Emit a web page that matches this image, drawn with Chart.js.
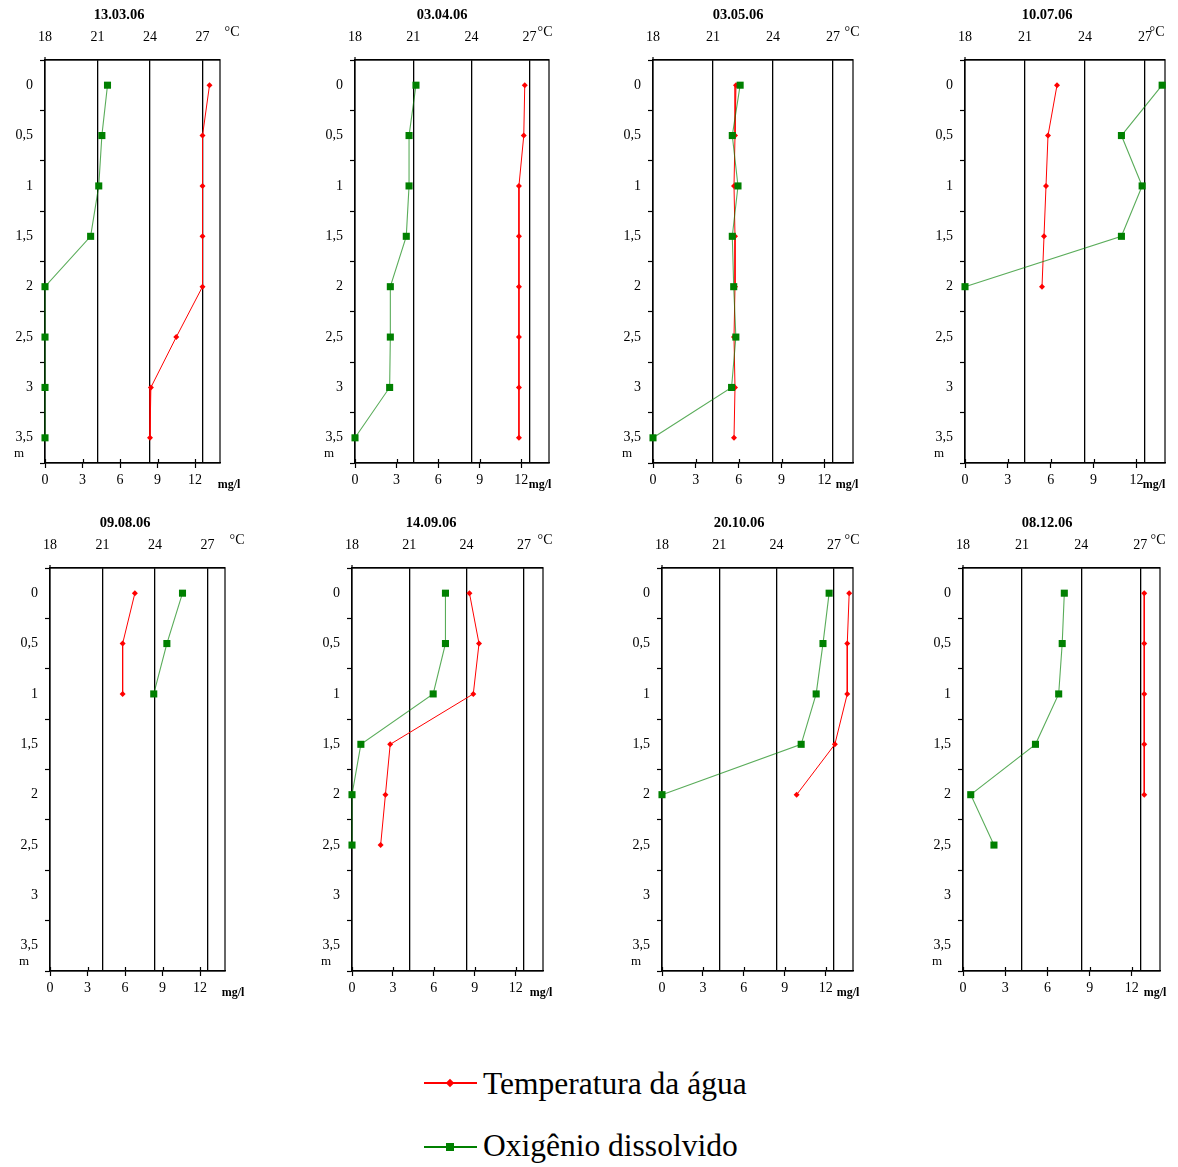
<!DOCTYPE html>
<html>
<head>
<meta charset="utf-8">
<script src="https://cdn.jsdelivr.net/npm/chart.js@4.4.0/dist/chart.umd.min.js"></script>
<style>
  body { margin: 0; background: #fff; }
  #page { position: relative; width: 1178px; height: 1167px; overflow: hidden; font-family: "Liberation Serif", "Times New Roman", serif; }
  .panel { position: absolute; }
  .leg-line { position: absolute; height: 2px; width: 53px; left: 424px; }
  .leg-text { position: absolute; left: 483px; font-size: 31.5px; line-height: 32px; color: #000; white-space: nowrap; }
</style>
</head>
<body>
<div id="page">
  <div class="leg-line" style="top:1082px;background:#ff0000"></div>
  <div style="position:absolute;left:447px;top:1080px;width:6px;height:6px;background:#ff0000;transform:rotate(45deg)"></div>
  <div class="leg-text" style="top:1068px">Temperatura da água</div>
  <div class="leg-line" style="top:1146px;background:#008000"></div>
  <div style="position:absolute;left:446px;top:1143px;width:8px;height:8px;background:#008000"></div>
  <div class="leg-text" style="top:1130px">Oxigênio dissolvido</div>
</div>
<script>
// Sampling dates (one panel each)
const dates = ["13.03.06", "03.04.06", "03.05.06", "10.07.06", "09.08.06", "14.09.06", "20.10.06", "08.12.06"];

// Depth categories (m)
const depths = [0, 0.5, 1, 1.5, 2, 2.5, 3, 3.5];

// Tick labels
const tempTicks = [18, 21, 24, 27];
const oxyTicks = [0, 3, 6, 9, 12];

// Water temperature (°C), top to bottom
const temp1 = [27.4, 27.0, 27.0, 27.0, 27.0, 25.5, 24.05, 24.0];
const temp2 = [26.75, 26.7, 26.45, 26.45, 26.45, 26.45, 26.45, 26.45];
const temp3 = [22.15, 22.1, 22.05, 22.1, 22.1, 22.05, 22.1, 22.05];
const temp4 = [22.6, 22.15, 22.05, 21.95, 21.85];
const temp5 = [22.85, 22.15, 22.15];
const temp6 = [24.15, 24.65, 24.35, 20.0, 19.75, 19.5];
const temp7 = [27.8, 27.7, 27.7, 27.05, 25.05];
const temp8 = [27.2, 27.2, 27.2, 27.2, 27.2];

// Dissolved oxygen (mg/l), top to bottom
const oxy1 = [5.0, 4.55, 4.3, 3.65, 0, 0, 0, 0];
const oxy2 = [4.4, 3.9, 3.9, 3.7, 2.55, 2.55, 2.5, 0];
const oxy3 = [6.1, 5.55, 5.95, 5.55, 5.65, 5.8, 5.5, 0];
const oxy4 = [13.8, 10.95, 12.4, 10.95, 0];
const oxy5 = [10.6, 9.35, 8.3];
const oxy6 = [6.85, 6.85, 5.95, 0.65, 0, 0];
const oxy7 = [12.25, 11.8, 11.3, 10.2, 0];
const oxy8 = [7.2, 7.05, 6.8, 5.15, 0.55, 2.2];

const tempSeries = [temp1, temp2, temp3, temp4, temp5, temp6, temp7, temp8];
const oxySeries = [oxy1, oxy2, oxy3, oxy4, oxy5, oxy6, oxy7, oxy8];

// Panel placement on the page (plot area left/top/width, label centres)
const panelBoxes = [
  { left: 45, top: 60, w: 175, titleX: 119, cx: 232, mx: 229 },
  { left: 355, top: 60, w: 194, titleX: 442, cx: 545, mx: 540 },
  { left: 653, top: 60, w: 200, titleX: 738, cx: 852, mx: 847 },
  { left: 965, top: 60, w: 200, titleX: 1047, cx: 1157, mx: 1154 },
  { left: 50, top: 568, w: 175, titleX: 125, cx: 237, mx: 233 },
  { left: 352, top: 568, w: 191, titleX: 431, cx: 545, mx: 541 },
  { left: 662, top: 568, w: 191, titleX: 739, cx: 852, mx: 848 },
  { left: 963, top: 568, w: 197, titleX: 1047, cx: 1158, mx: 1155 },
];

const Y_AXIS_W = 44;
const TOP_H = 60;
const PLOT_H = 403;
const BOTTOM_H = 32;
const RIGHT_PAD = 36;
const TICK_FONT = 14;

Chart.defaults.font.family = '"Liberation Serif", "Times New Roman", serif';
Chart.defaults.color = "#000";

// ticks at every depth plus the in-between marks
const depthMarks = [];
depths.forEach((d) => { depthMarks.push(d - 0.25); depthMarks.push(d); });
depthMarks.push(depths[depths.length - 1] + 0.25);

// frame, inner half of the mg/l ticks, panel texts
const panelText = {
  id: "panelText",
  beforeDatasetsDraw(chart) {
    const { ctx, chartArea: a } = chart;
    const xB = chart.scales.xB;
    ctx.save();
    ctx.strokeStyle = "#000";
    ctx.lineWidth = 1.2;
    ctx.strokeRect(a.left, a.top, a.right - a.left, a.bottom - a.top);
    ctx.beginPath();
    oxyTicks.forEach((v) => {
      const px = Math.round(xB.getPixelForValue(v)) + 0.5;
      ctx.moveTo(px, a.bottom);
      ctx.lineTo(px, a.bottom - 4);
    });
    ctx.moveTo(a.left, a.top);
    ctx.lineTo(a.left, a.top - 3);
    ctx.stroke();
    ctx.restore();
  },
  afterDraw(chart, args, opts) {
    const { ctx, chartArea: a } = chart;
    ctx.save();
    ctx.fillStyle = "#000";
    ctx.textAlign = "center";
    ctx.textBaseline = "middle";
    ctx.font = 'bold 14.5px "Liberation Serif", serif';
    ctx.fillText(opts.title, opts.titleX, a.top - 45);
    ctx.font = '14px "Liberation Serif", serif';
    ctx.fillText("°C", opts.cx, a.top - 28);
    ctx.font = 'bold 12px "Liberation Serif", serif';
    ctx.fillText("mg/l", opts.mx, a.bottom + 22);
    ctx.font = '13px "Liberation Serif", serif';
    ctx.fillText("m", a.left - 26, a.bottom - 9);
    ctx.restore();
  },
};

function makePanel(i) {
  const box = panelBoxes[i];
  const page = document.getElementById("page");
  const canvasLeft = box.left - Y_AXIS_W;
  const canvasTop = box.top - TOP_H;
  const width = Math.round(Y_AXIS_W + box.w + RIGHT_PAD);
  const height = TOP_H + PLOT_H + BOTTOM_H;

  const canvas = document.createElement("canvas");
  canvas.className = "panel";
  canvas.width = width;
  canvas.height = height;
  canvas.style.left = canvasLeft + "px";
  canvas.style.top = canvasTop + "px";
  canvas.style.width = width + "px";
  canvas.style.height = height + "px";
  page.appendChild(canvas);

  const temp = tempSeries[i];
  const oxy = oxySeries[i];

  new Chart(canvas, {
    type: "scatter",
    data: {
      datasets: [
        {
          label: "Temperatura da água",
          data: temp.map((v, k) => ({ x: v, y: depths[k] })),
          xAxisID: "xT",
          yAxisID: "y",
          showLine: true,
          clip: false,
          borderColor: "#ff0000",
          borderWidth: 1,
          backgroundColor: "#ff0000",
          pointStyle: "rectRot",
          pointRadius: 3,
          pointBorderWidth: 0,
          order: 1,
        },
        {
          label: "Oxigênio dissolvido",
          data: oxy.map((v, k) => ({ x: v, y: depths[k] })),
          xAxisID: "xB",
          yAxisID: "y",
          showLine: true,
          clip: false,
          borderColor: "rgba(0, 128, 0, 0.65)",
          borderWidth: 1.1,
          backgroundColor: "#008000",
          pointStyle: "rect",
          pointRadius: 5,
          pointBorderWidth: 0,
          order: 0,
        },
      ],
    },
    options: {
      responsive: false,
      animation: false,
      events: [],
      layout: { padding: { left: 0, top: 0, bottom: 0, right: width - Y_AXIS_W - box.w } },
      plugins: {
        legend: { display: false },
        tooltip: { enabled: false },
        panelText: { title: dates[i], titleX: box.titleX - canvasLeft, cx: box.cx - canvasLeft, mx: box.mx - canvasLeft },
      },
      scales: {
        xT: {
          type: "linear",
          axis: "x",
          position: "top",
          min: 18,
          max: 28,
          afterBuildTicks: (s) => { s.ticks = tempTicks.map((v) => ({ value: v })); },
          afterFit: (s) => { s.height = TOP_H; },
          ticks: { padding: 14.6, font: { size: TICK_FONT }, maxRotation: 0 },
          grid: {
            drawTicks: false,
            color: (c) => (c.tick && c.tick.value === 18 ? "rgba(0,0,0,0)" : "#000"),
            lineWidth: 1.3,
          },
          border: { display: true, color: "#000", width: 1.2 },
        },
        xB: {
          type: "linear",
          axis: "x",
          position: "bottom",
          min: 0,
          max: 14,
          afterBuildTicks: (s) => { s.ticks = oxyTicks.map((v) => ({ value: v })); },
          afterFit: (s) => { s.height = BOTTOM_H; },
          ticks: { padding: 3.6, font: { size: TICK_FONT }, maxRotation: 0 },
          grid: { drawOnChartArea: false, tickLength: 5, tickColor: "#000", tickWidth: 1.2 },
          border: { display: true, color: "#000", width: 1.2 },
        },
        y: {
          type: "linear",
          position: "left",
          reverse: true,
          min: -0.25,
          max: 3.75,
          afterBuildTicks: (s) => { s.ticks = depthMarks.map((v) => ({ value: v })); },
          afterFit: (s) => { s.width = Y_AXIS_W; },
          ticks: {
            padding: 7,
            font: { size: TICK_FONT },
            callback: (v) => (depths.includes(v) ? String(v).replace(".", ",") : ""),
          },
          grid: {
            drawOnChartArea: false,
            tickLength: 5,
            tickWidth: 1.2,
            tickColor: (c) => (c.tick && depths.includes(c.tick.value) ? "rgba(0,0,0,0)" : "#000"),
          },
          border: { display: true, color: "#000", width: 1.2 },
        },
      },
    },
    plugins: [panelText],
  });
}

dates.forEach((d, i) => makePanel(i));
</script>
</body>
</html>
